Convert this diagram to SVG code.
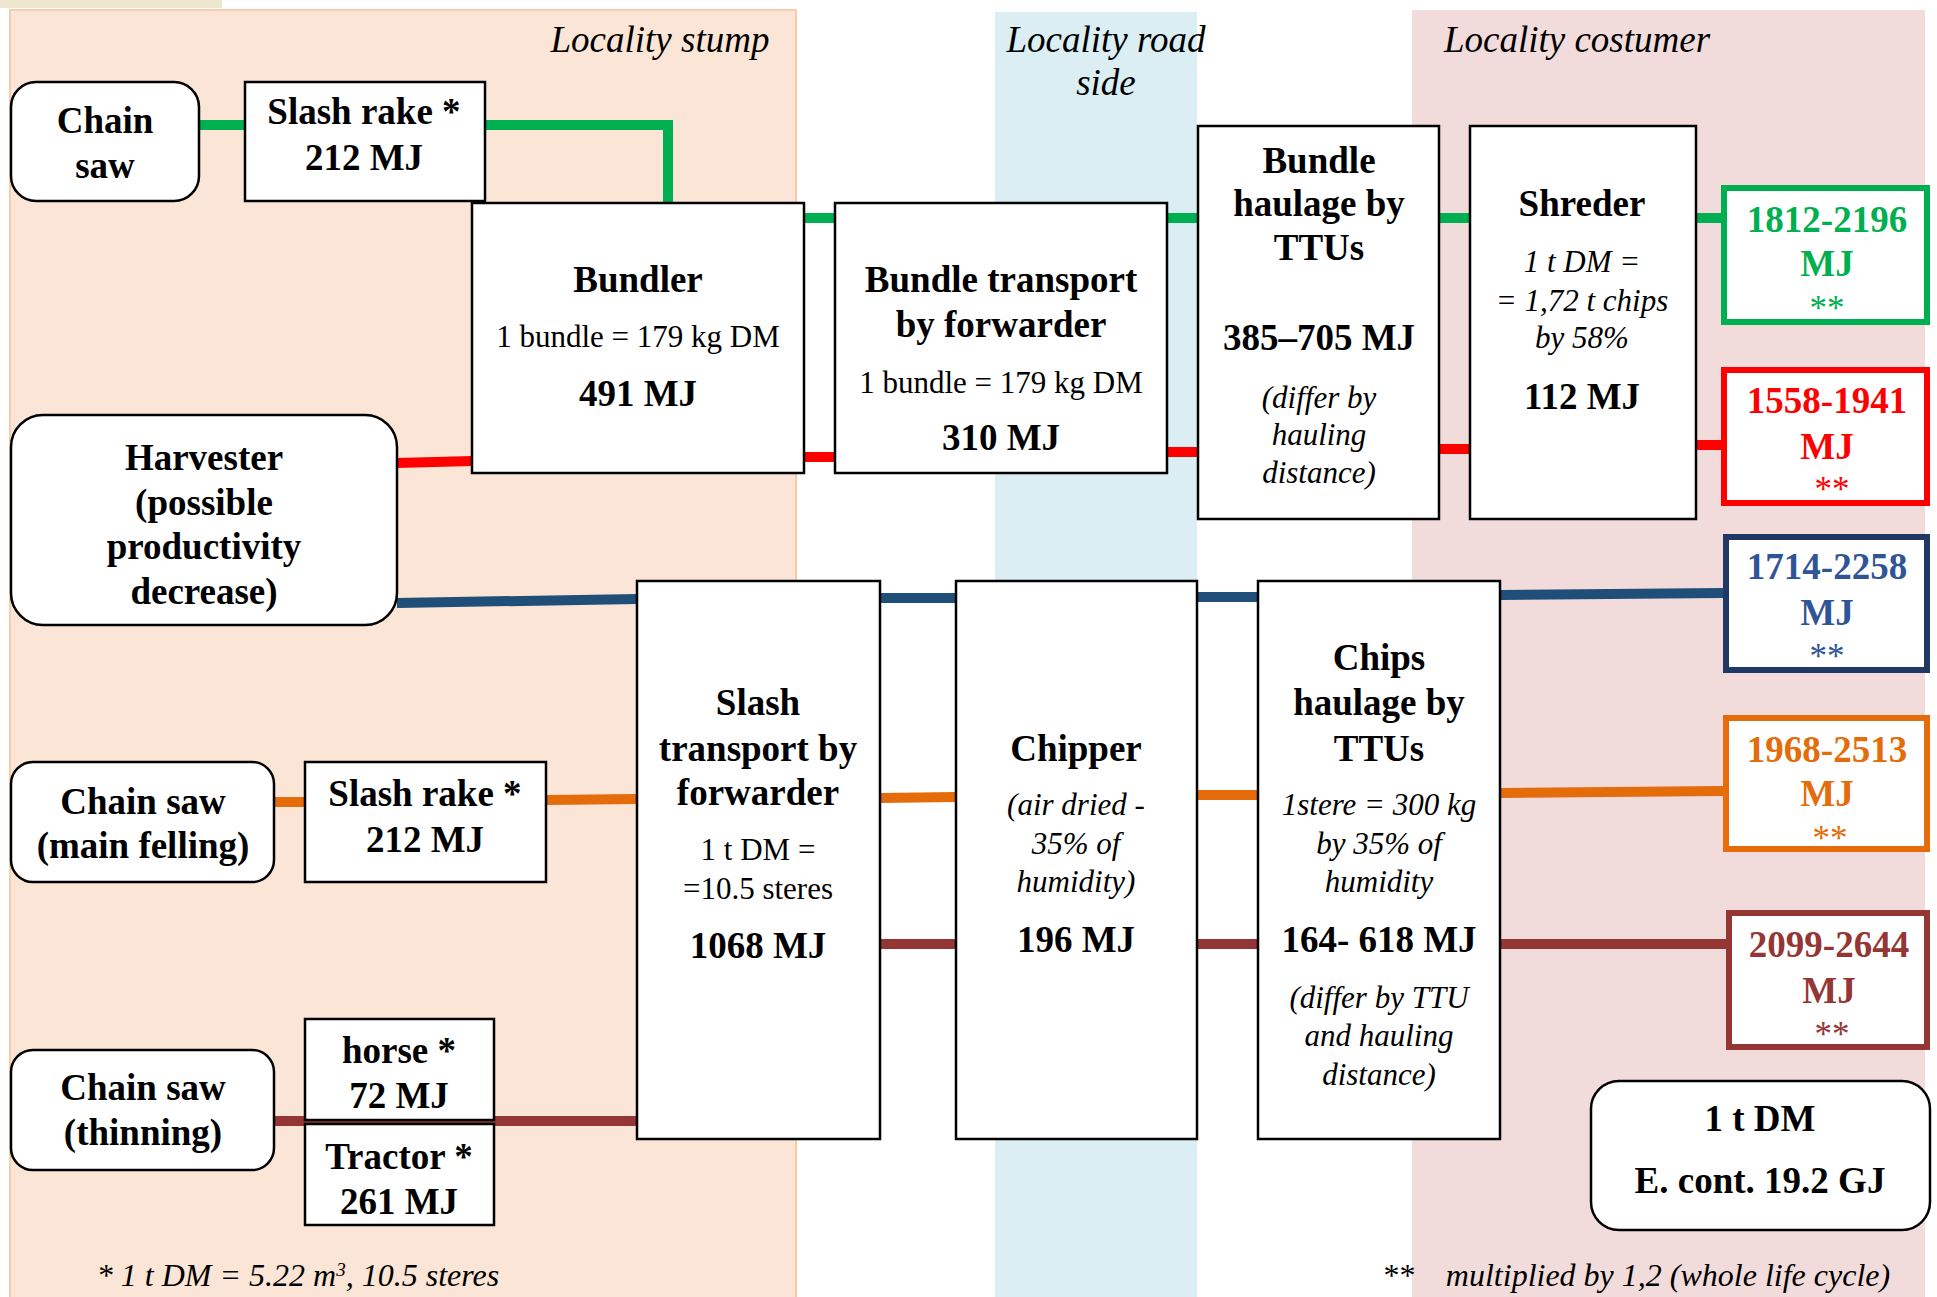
<svg xmlns="http://www.w3.org/2000/svg" width="1937" height="1297" viewBox="0 0 1937 1297">
<style>
text{font-family:"Liberation Serif","Times New Roman",serif;text-anchor:middle;fill:#000}
.b{font-weight:bold;font-size:37px}
.r{font-size:31px}
.i{font-style:italic;font-size:31px}
.t{font-style:italic;font-size:37px}
.f{font-style:italic;font-size:32px}
.box{fill:#fff;stroke:#000;stroke-width:2.5}
.ln{fill:none;stroke-width:10}
.res{fill:#fff;stroke-width:6}
.st{font-size:35px}
</style>
<rect width="1937" height="1297" fill="#fff"/>
<g id="zones">
<rect x="0" y="0" width="222" height="8" fill="#EFE6CF"/>
<rect x="10" y="10" width="786" height="1290" fill="#FBE5D6" stroke="#F8CBAD" stroke-width="2"/>
<rect x="995" y="12" width="202" height="1290" fill="#DAEEF3"/>
<rect x="1412" y="10" width="513" height="1290" fill="#F2DCDB"/>
<text class="t" x="660" y="52">Locality stump</text>
<text class="t" x="1106" y="52">Locality road</text>
<text class="t" x="1106" y="95">side</text>
<text class="t" x="1577" y="52">Locality costumer</text>
</g>
<g id="connectors">
<path class="ln" stroke="#00B050" d="M199,125 H245 M485,125 H668 V205 M804,218 H835 M1167,218 H1198 M1439,218 H1470 M1696,218 H1721"/>
<path class="ln" stroke="#FF0000" d="M397,463 L472,461 M804,457 H835 M1167,452 H1198 M1439,449 H1470 M1696,445 H1721"/>
<path class="ln" stroke="#1F4E79" d="M397,603 L637,599 M880,598 H956 M1197,597 H1258 M1500,595 L1723,593"/>
<path class="ln" stroke="#E46C0A" d="M274,802 H305 M546,800 L637,799 M880,798 L956,797 M1197,795 H1258 M1500,793 L1723,791"/>
<path class="ln" stroke="#943634" d="M274,1121 H637 M880,944 H956 M1197,944 H1258 M1500,944 H1726"/>
</g>
<g id="chainsaw1"><rect class="box" x="11" y="82" width="188" height="119" rx="25"/><text class="b" x="105" y="133">Chain</text><text class="b" x="105" y="178">saw</text></g>
<g id="slashrake1"><rect class="box" x="245" y="82" width="240" height="119"/><text class="b" x="364" y="124">Slash rake *</text><text class="b" x="364" y="170">212 MJ</text></g>
<g id="bundler"><rect class="box" x="472" y="203" width="332" height="270"/><text class="b" x="638" y="292">Bundler</text><text class="r" x="638" y="347">1 bundle = 179 kg DM</text><text class="b" x="638" y="406">491 MJ</text></g>
<g id="bundletransport"><rect class="box" x="835" y="203" width="332" height="270"/><text class="b" x="1001" y="292">Bundle transport</text><text class="b" x="1001" y="337">by forwarder</text><text class="r" x="1001" y="393">1 bundle = 179 kg DM</text><text class="b" x="1001" y="450">310 MJ</text></g>
<g id="bundlehaulage"><rect class="box" x="1198" y="126" width="241" height="393"/><text class="b" x="1319" y="173">Bundle</text><text class="b" x="1319" y="216">haulage by</text><text class="b" x="1319" y="260">TTUs</text><text class="b" x="1319" y="350">385–705 MJ</text><text class="i" x="1319" y="408">(differ by</text><text class="i" x="1319" y="445">hauling</text><text class="i" x="1319" y="483">distance)</text></g>
<g id="shreder"><rect class="box" x="1470" y="126" width="226" height="393"/><text class="b" x="1582" y="216">Shreder</text><text class="i" x="1582" y="272">1 t DM =</text><text class="i" x="1582" y="311">= 1,72 t chips</text><text class="i" x="1582" y="348">by 58%</text><text class="b" x="1582" y="409">112 MJ</text></g>
<g id="resgreen"><rect class="res" x="1724" y="188" width="203" height="134" stroke="#00B050"/><text class="b" x="1827" y="232" style="fill:#00B050">1812-2196</text><text class="b" x="1827" y="276" style="fill:#00B050">MJ</text><text class="st" x="1827" y="320" style="fill:#00B050">**</text></g>
<g id="resred"><rect class="res" x="1724" y="370" width="203" height="133" stroke="#FF0000"/><text class="b" x="1827" y="413" style="fill:#FF0000">1558-1941</text><text class="b" x="1827" y="459" style="fill:#FF0000">MJ</text><text class="st" x="1832" y="501" style="fill:#FF0000">**</text></g>
<g id="harvester"><rect class="box" x="11" y="415" width="386" height="210" rx="32"/><text class="b" x="204" y="470">Harvester</text><text class="b" x="204" y="515">(possible</text><text class="b" x="204" y="559">productivity</text><text class="b" x="204" y="604">decrease)</text></g>
<g id="slashtransport"><rect class="box" x="637" y="581" width="243" height="558"/><text class="b" x="758" y="715">Slash</text><text class="b" x="758" y="761">transport by</text><text class="b" x="758" y="805">forwarder</text><text class="r" x="758" y="860">1 t DM =</text><text class="r" x="758" y="899">=10.5 steres</text><text class="b" x="758" y="958">1068 MJ</text></g>
<g id="chipper"><rect class="box" x="956" y="581" width="241" height="558"/><text class="b" x="1076" y="761">Chipper</text><text class="i" x="1076" y="815">(air dried -</text><text class="i" x="1076" y="854">35% of</text><text class="i" x="1076" y="892">humidity)</text><text class="b" x="1076" y="952">196 MJ</text></g>
<g id="chipshaulage"><rect class="box" x="1258" y="581" width="242" height="558"/><text class="b" x="1379" y="670">Chips</text><text class="b" x="1379" y="715">haulage by</text><text class="b" x="1379" y="761">TTUs</text><text class="i" x="1379" y="815">1stere = 300 kg</text><text class="i" x="1379" y="854">by 35% of</text><text class="i" x="1379" y="892">humidity</text><text class="b" x="1379" y="952">164- 618 MJ</text><text class="i" x="1379" y="1008">(differ by TTU</text><text class="i" x="1379" y="1046">and hauling</text><text class="i" x="1379" y="1085">distance)</text></g>
<g id="resnavy"><rect class="res" x="1726" y="537" width="201" height="133" stroke="#203864"/><text class="b" x="1827" y="579" style="fill:#2F5597">1714-2258</text><text class="b" x="1827" y="625" style="fill:#2F5597">MJ</text><text class="st" x="1827" y="668" style="fill:#2F5597">**</text></g>
<g id="resorange"><rect class="res" x="1726" y="718" width="201" height="131" stroke="#E46C0A"/><text class="b" x="1827" y="762" style="fill:#E46C0A">1968-2513</text><text class="b" x="1827" y="806" style="fill:#E46C0A">MJ</text><text class="st" x="1830" y="850" style="fill:#E46C0A">**</text></g>
<g id="resbrown"><rect class="res" x="1729" y="913" width="198" height="134" stroke="#943634"/><text class="b" x="1829" y="957" style="fill:#943634">2099-2644</text><text class="b" x="1829" y="1003" style="fill:#943634">MJ</text><text class="st" x="1832" y="1046" style="fill:#943634">**</text></g>
<g id="chainsawmain"><rect class="box" x="11" y="762" width="263" height="120" rx="22"/><text class="b" x="143" y="814">Chain saw</text><text class="b" x="143" y="858">(main felling)</text></g>
<g id="slashrake2"><rect class="box" x="305" y="762" width="241" height="120"/><text class="b" x="425" y="806">Slash rake *</text><text class="b" x="425" y="852">212 MJ</text></g>
<g id="chainsawthin"><rect class="box" x="11" y="1050" width="263" height="120" rx="22"/><text class="b" x="143" y="1100">Chain saw</text><text class="b" x="143" y="1145">(thinning)</text></g>
<g id="horse"><rect class="box" x="305" y="1019" width="189" height="101"/><text class="b" x="399" y="1063">horse *</text><text class="b" x="399" y="1108">72 MJ</text></g>
<g id="tractor"><rect class="box" x="305" y="1124" width="189" height="101"/><text class="b" x="399" y="1169">Tractor *</text><text class="b" x="399" y="1214">261 MJ</text></g>
<g id="legend"><rect class="box" x="1591" y="1081" width="339" height="149" rx="28"/><text class="b" x="1760" y="1131">1 t DM</text><text class="b" x="1760" y="1193">E. cont. 19.2 GJ</text></g>
<g id="notes">
<text class="f" x="298" y="1286">* 1 t DM = 5.22 m<tspan font-size="19" baseline-shift="super">3</tspan>, 10.5 steres</text>
<text class="f" x="1398" y="1286">**</text>
<text class="f" x="1668" y="1286">multiplied by 1,2 (whole life cycle)</text>
</g>
</svg>
